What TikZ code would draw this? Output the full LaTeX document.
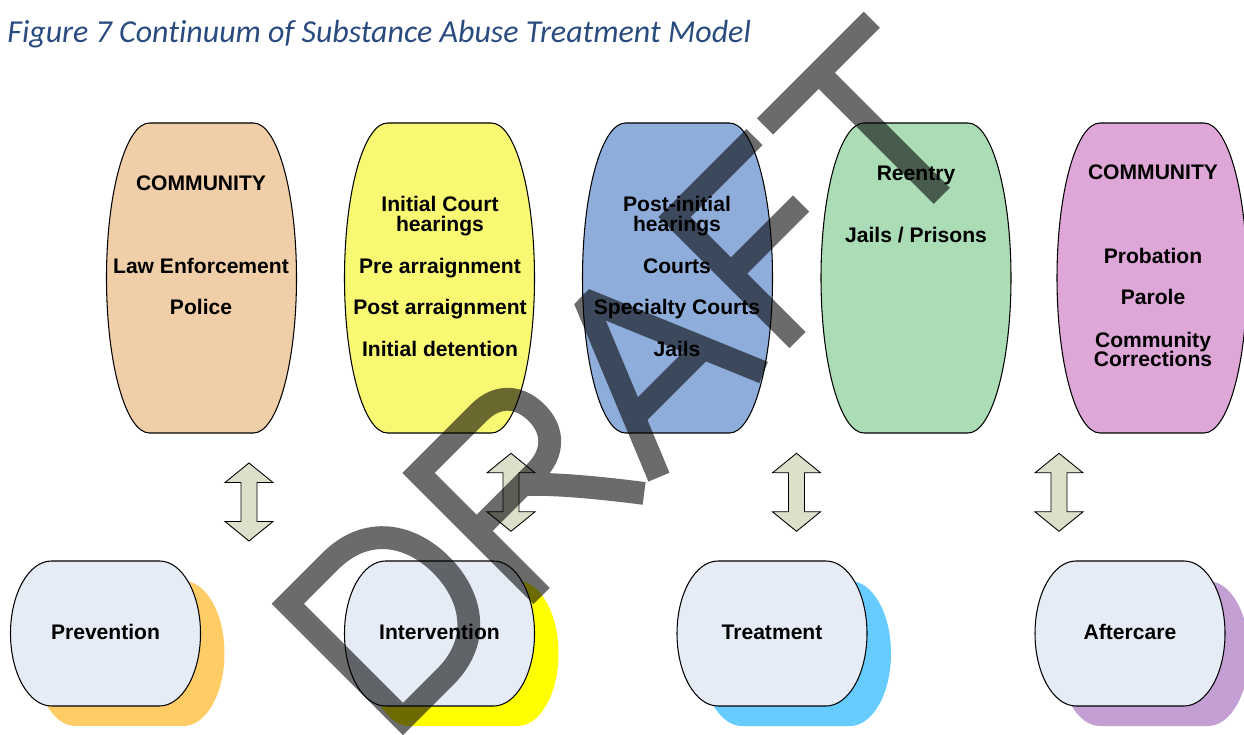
\documentclass[tikz,border=0pt]{standalone}
\usepackage{fontspec}
\setmainfont{Liberation Sans}
\newfontfamily\capfont[Ligatures=NoCommon]{Carlito}
\usetikzlibrary{arrows.meta}
\definecolor{capBlue}{HTML}{2A4B7F}
\definecolor{barPeach}{HTML}{F0CEA8}
\definecolor{barYellow}{HTML}{F9F872}
\definecolor{barBlue}{HTML}{8FADDA}
\definecolor{barGreen}{HTML}{AADCB6}
\definecolor{barPink}{HTML}{DEA7D8}
\definecolor{podFill}{HTML}{E6ECF6}
\definecolor{shOrange}{HTML}{FFCC66}
\definecolor{shYellow}{HTML}{FFFF00}
\definecolor{shCyan}{HTML}{66CCFF}
\definecolor{shLilac}{HTML}{C49FD4}
\definecolor{arrowFill}{HTML}{DCDFCA}
\newcommand{\DrawBarrel}[2]{
    \begin{scope}[shift={(#1,456)}]
        % Body
        \draw[fill=#2, draw=black, line width=0.6pt] (-52,155) -- (52,155) arc[start angle=90, end angle=-90, x radius=43, y radius=155] -- (-52,-155) arc[start angle=270, end angle=90, x radius=43, y radius=155] -- cycle;
    \end{scope}
}
\newcommand{\DrawPod}[2]{
    \begin{scope}[shift={(#1,100.5)}]
        % Shadow
        \fill[#2] (-30,52.5) -- (78,52.5) arc[start angle=90, end angle=-90, x radius=41, y radius=72.5] -- (-30,-92.5) arc[start angle=270, end angle=90, x radius=41, y radius=72.5] -- cycle;
        % Body
        \draw[fill=podFill, draw=black, line width=0.6pt] (-54,72.5) -- (54,72.5) arc[start angle=90, end angle=-90, x radius=41, y radius=72.5] -- (-54,-72.5) arc[start angle=270, end angle=90, x radius=41, y radius=72.5] -- cycle;
    \end{scope}
}
\newcommand{\DrawUpDown}[2]{
    \begin{scope}[shift={(#1,#2)}]
        \draw[fill=arrowFill, draw=black, line width=0.5pt] (0,0) -- (24,-19.5) -- (8,-19.5) -- (8,-58.5) -- (24,-58.5) -- (0,-78) -- (-24,-58.5) -- (-8,-58.5) -- (-8,-19.5) -- (-24,-19.5) -- cycle;
    \end{scope}
}

\begin{document}
\begin{tikzpicture}[x=0.02cm, y=0.02cm, lbl/.style={font=\fontsize{12}{12}\selectfont\bfseries, inner sep=0pt, anchor=base}]
        \useasboundingbox (0,0) rectangle (1244,734);

        % Caption
        \node[anchor=base west, inner sep=0pt, text=capBlue, font=\capfont\itshape\fontsize{18.2}{20}\selectfont] (caption) at (7,691) {Figure 7 Continuum of Substance Abuse Treatment Model};

        % Upper barrels
        \DrawBarrel{201.5}{barPeach}
        \DrawBarrel{439.5}{barYellow}
        \DrawBarrel{677.5}{barBlue}
        \DrawBarrel{916}{barGreen}
        \DrawBarrel{1152}{barPink}

        % Lower pods with shadows
        \DrawPod{105.5}{shOrange}
        \DrawPod{439.5}{shYellow}
        \DrawPod{772}{shCyan}
        \DrawPod{1130}{shLilac}

        % Double arrows
        \DrawUpDown{249}{271}
        \DrawUpDown{511}{280.7}
        \DrawUpDown{796.5}{280.7}
        \DrawUpDown{1059}{280.7}

        % Barrel 1
        \node[lbl] (comm1) at (201,543.3) {COMMUNITY};
        \node[lbl] (law) at (201,460.7) {Law Enforcement};
        \node[lbl] (police) at (201,419) {Police};
        % Barrel 2
        \node[lbl] (court1) at (440,522.3) {Initial Court};
        \node[lbl] (court2) at (440,502.3) {hearings};
        \node[lbl] (prearr) at (440,460.7) {Pre arraignment};
        \node[lbl] (postarr) at (440,419) {Post arraignment};
        \node[lbl] (detain) at (440,377.3) {Initial detention};
        % Barrel 3
        \node[lbl] (post1) at (677,522.3) {Post-initial};
        \node[lbl] (post2) at (677,502.3) {hearings};
        \node[lbl] (courts) at (677,460.7) {Courts};
        \node[lbl] (special) at (677,419) {Specialty Courts};
        \node[lbl] (jails) at (677,377.3) {Jails};
        % Barrel 4
        \node[lbl] (reentry) at (916,553.3) {Reentry};
        \node[lbl] (prisons) at (916,491.3) {Jails / Prisons};
        % Barrel 5
        \node[lbl] (comm2) at (1153,554.7) {COMMUNITY};
        \node[lbl] (probation) at (1153,470.7) {Probation};
        \node[lbl] (parole) at (1153,429.7) {Parole};
        \node[lbl] (corr1) at (1153,386.7) {Community};
        \node[lbl] (corr2) at (1153,367.3) {Corrections};

        % Pod labels
        \node[lbl] (prevention) at (105.5,94.5) {Prevention};
        \node[lbl] (intervention) at (439.5,94.5) {Intervention};
        \node[lbl] (treatment) at (772,94.5) {Treatment};
        \node[lbl] (aftercare) at (1130,94.5) {Aftercare};

        % Watermark
        \begin{scope}[shift={(403,15)}, rotate=45, draw=black, draw opacity=0.58, line width=13pt, line join=miter]
            % D
            \draw (0,0) -- (0,163) -- (60,163) .. controls (112,163) and (136,125) .. (136,82) .. controls (136,39) and (112,0) .. (60,0) -- cycle;
            % R
            \draw (185,-11) -- (185,163) -- (270,163) .. controls (298,163) and (311,145) .. (311,122) .. controls (311,98) and (296,81) .. (268,81) -- (185,81)
                  (250,81) .. controls (268,66) and (300,28) .. (330,-11);
            % A
            \draw[line join=bevel] (352,-10) -- (425,168) -- (500,-10) (377,50) -- (475,50);
            % F
            \draw (547,-11) -- (547,163) -- (660,163) (547,83) -- (646,83);
            % T
            \draw (675,163) -- (826,163) (751,163) -- (751,-11);
        \end{scope}
\end{tikzpicture}
\end{document}
